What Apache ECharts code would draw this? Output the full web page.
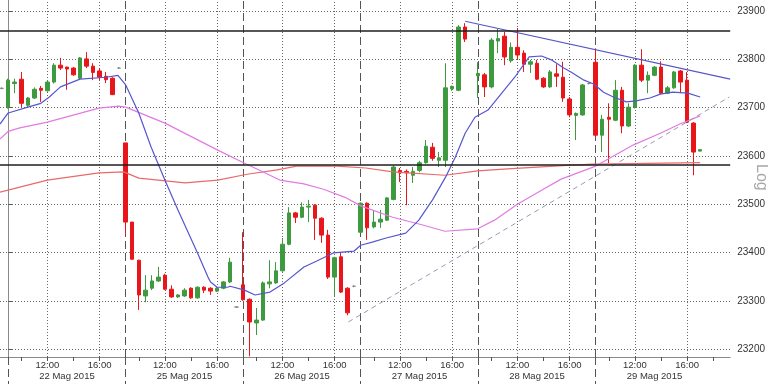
<!DOCTYPE html>
<html><head><meta charset="utf-8">
<script src="https://cdn.jsdelivr.net/npm/echarts@6/dist/echarts.min.js"></script>
<style>html,body{margin:0;padding:0;background:#fff}#c{width:768px;height:384px}</style>
</head><body><div id="c"></div>
<script>
// 30-minute bars; slot index 0 = 22 Mag 09:00, 18 slots per session day (09:00-17:30)
const FIRST_SLOT = -1;
const opens = [23740,
 23701,23750,23759,23705,23720,23740,23735,23753,23788,23784,23782,23761,23801,23786,23776,23765,23761,23782,
 23627,23463,23384,23310,23326,23341,23353,23324,23308,23310,23326,23306,23328,23326,23320,23326,23339,23287,
 23333,23303,23254,23260,23335,23337,23362,23417,23482,23473,23494,23498,23471,23436,23349,23391,23326,23330,
 23442,23502,23453,23463,23467,23510,23570,23568,23560,23570,23586,23618,23591,23591,23739,23736,23867,null,
 23766,23768,23743,23838,23848,23797,23825,23813,23790,23792,23761,23743,23770,23763,23718,23684,23685,23750,
 23794,23643,23680,23674,23736,23662,23701,23788,23757,23767,23784,23730,23741,23776,23757,23668,23610];
const closes = [23740,
 23757,23753,23709,23720,23738,23736,23753,23788,23782,23780,23768,23803,23786,23773,23763,23758,23727,23782,
 23463,23386,23312,23322,23341,23349,23324,23308,23312,23322,23306,23328,23322,23320,23326,23339,23380,23287,
 23302,23256,23260,23337,23339,23362,23417,23482,23473,23494,23496,23471,23436,23349,23389,23318,23275,23330,
 23502,23451,23463,23469,23513,23577,23565,23565,23568,23586,23620,23595,23596,23741,23744,23867,23842,null,
 23771,23743,23840,23843,23805,23825,23809,23790,23795,23759,23743,23774,23765,23720,23685,23688,23747,23750,
 23643,23676,23676,23736,23662,23701,23788,23757,23767,23784,23730,23741,23774,23753,23670,23608,23613];
const lows = [23738,
 23698,23730,23701,23700,23718,23712,23733,23750,23778,23737,23766,23758,23782,23757,23757,23751,23726,23780,
 23436,23385,23281,23297,23322,23339,23322,23306,23306,23308,23304,23304,23316,23312,23318,23324,23337,23285,
 23300,23185,23229,23258,23326,23335,23360,23415,23461,23471,23463,23426,23420,23345,23308,23316,23270,23328,
 23440,23426,23450,23451,23465,23508,23546,23498,23544,23566,23584,23590,23577,23577,23735,23734,23836,null,
 23720,23722,23740,23813,23788,23793,23799,23774,23772,23757,23741,23741,23743,23712,23680,23633,23683,23748,
 23640,23608,23585,23672,23647,23660,23698,23753,23730,23765,23728,23728,23739,23730,23668,23560,23609];
const highs = [23742,
 23760,23760,23774,23722,23742,23745,23757,23792,23803,23785,23784,23805,23815,23792,23782,23774,23763,23784,
 23627,23463,23385,23353,23353,23370,23356,23332,23314,23326,23328,23330,23330,23328,23328,23341,23389,23289,
 23442,23305,23285,23340,23384,23380,23430,23494,23484,23504,23509,23500,23473,23447,23391,23401,23328,23332,
 23504,23504,23488,23488,23515,23580,23575,23572,23577,23590,23633,23627,23608,23792,23746,23871,23875,null,
 23794,23772,23844,23863,23857,23835,23865,23819,23799,23799,23763,23778,23790,23795,23722,23690,23749,23752,
 23823,23685,23709,23757,23743,23709,23790,23821,23775,23786,23796,23745,23776,23778,23774,23670,23614];

// moving averages (slot, price)
const blueSlots  = [-1.26,0,3,5,6.3,8,11,15,16.8,18,20,21.9,24,26,29,30.6,31,32,33.6,34,36.2,37.8,40.1,42.3,45.3,47.2,49.8,53,54,55.9,57.9,60.9,62.9,65,67,68.5,70,71.5,73.5,75.6,77.6,79.8,81.7,83.2,85.1,86.2,88.2,89.7,91.2,92.7,94.7,96.2,98.3,99.9,101.8,104.1,106];
const bluePrices = [23666,23689,23701,23709,23722,23743,23759,23763,23767,23747,23689,23618,23550,23488,23399,23349,23339,23328,23328,23330,23322,23312,23318,23337,23370,23382,23399,23403,23415,23422,23430,23440,23467,23509,23556,23598,23647,23680,23695,23730,23763,23805,23807,23799,23782,23774,23757,23749,23732,23722,23712,23714,23720,23728,23732,23730,23722];
const pinkSlots  = [-1.26,0,1.77,6,13.9,16.9,18,24,32.1,36.2,38.1,41.6,45.3,48.3,51.8,54.1,58.9,63.5,66.9,71.9,74.5,78,81.7,84.7,90,95.8,99.9,102.9,106];
const pinkPrices = [23635,23651,23658,23670,23699,23703,23701,23668,23612,23585,23573,23550,23542,23531,23513,23496,23473,23457,23444,23449,23467,23500,23529,23552,23579,23623,23647,23666,23683];
const redSlots   = [-1.26,6,13.9,17.7,20,27.1,32.1,36.6,41.2,44.2,50.3,54.8,58.9,66.9,71.9,76.5,86.2,89.7,106];
const redPrices  = [23525,23550,23565,23567,23554,23544,23550,23562,23571,23579,23579,23575,23567,23560,23569,23573,23581,23583,23586];

// drawn trend lines and horizontal levels
const resistSlots = [70.0, 110.6];
const resistPrices = [23879, 23759];
const supportSlots = [52.1, 110.46];
const supportPrices = [23256, 23722];
const levelLines = [23860, 23582];

// axes
const priceTicks = [23200,23300,23400,23500,23600,23700,23800,23900];
const dayNames = ['22 Mag 2015','25 Mag 2015','26 Mag 2015','27 Mag 2015','28 Mag 2015','29 Mag 2015'];
const labelHours = [12, 16];
const tickHours = [10, 12, 14, 16, 18];
const X_MIN = -1.258, X_MAX = 110.6, Y_MIN = 23183.5, Y_MAX = 23923;

const SLOTS_PER_DAY = 18;
const slotOf = (day, hour) => day * SLOTS_PER_DAY + (hour - 9) * 2;
const hhmm = h => (h < 10 ? '0' : '') + h + ':00';

const candles = [];
opens.forEach((o, i) => {
  if (o == null) return;
  candles.push([FIRST_SLOT + i, o, closes[i], lows[i], highs[i]]);
});
const zip = (xs, ys) => xs.map((x, i) => [x, ys[i]]);

const labelSlots = [], labelText = {};
const shortTicks = [];
const daySlots = [], dayCenters = [], dayText = {};
dayNames.forEach((name, d) => {
  labelHours.forEach(h => { const s = slotOf(d, h); labelSlots.push(s); labelText[s] = hhmm(h); });
  tickHours.forEach(h => shortTicks.push(slotOf(d, h)));
  daySlots.push(slotOf(d, 9));
  const c = slotOf(d, 13.5); dayCenters.push(c); dayText[c] = name;
});

const dotted = {type: [1, 2], color: '#666', width: 1};
const dashed = {type: [8, 4], color: '#555', width: 1};
const gridMarks = [];
priceTicks.forEach(p => gridMarks.push({yAxis: p, lineStyle: dotted}));
dayNames.forEach((n, d) => {
  gridMarks.push({xAxis: slotOf(d, 9), lineStyle: dashed});
  labelHours.forEach(h => gridMarks.push({xAxis: slotOf(d, h), lineStyle: dotted}));
});

const chart = echarts.init(document.getElementById('c'), null, {renderer: 'canvas'});
const font = 'Liberation Sans, Arial, sans-serif';
chart.setOption({
  animation: false,
  backgroundColor: '#fff',
  grid: {left: 0, right: 30, top: 0, bottom: 27, containLabel: false},
  xAxis: [{
    type: 'value', min: X_MIN, max: X_MAX,
    axisLine: {show: true, lineStyle: {color: '#8a8a8a', width: 1}},
    axisTick: {show: true, customValues: shortTicks, length: 4, lineStyle: {color: '#555'}},
    axisLabel: {customValues: labelSlots, formatter: v => labelText[v] || '', fontSize: 9.5, color: '#333', margin: 3, fontFamily: font},
    splitLine: {show: false}
  }, {
    type: 'value', min: X_MIN, max: X_MAX, position: 'bottom',
    axisLine: {show: false},
    axisTick: {show: true, customValues: daySlots, length: 27, lineStyle: {color: '#555', type: [8, 4]}},
    axisLabel: {customValues: dayCenters, formatter: v => dayText[v] || '', fontSize: 9.5, color: '#333', margin: 14, fontFamily: font},
    splitLine: {show: false}
  }],
  yAxis: {
    type: 'value', position: 'right', min: Y_MIN, max: Y_MAX, scale: true,
    axisLine: {show: true, lineStyle: {color: '#8a8a8a'}},
    axisTick: {show: true, customValues: priceTicks, length: 4, lineStyle: {color: '#555'}},
    axisLabel: {customValues: priceTicks, formatter: v => String(v), fontSize: 10, color: '#333', margin: 7, fontFamily: font},
    splitLine: {show: false}
  },
  series: [{
    type: 'line', data: [], silent: true,
    markLine: {silent: true, symbol: ['none', 'none'], label: {show: false}, z: 0, animation: false, data: gridMarks}
  }, {
    type: 'candlestick', data: candles, barWidth: 4, z: 3,
    itemStyle: {color: '#3e9a3e', color0: '#e8161b', borderColor: '#3e9a3e', borderColor0: '#e8161b', borderColorDoji: '#8a8a8a', borderWidth: 1}
  }, {
    type: 'line', data: zip(redSlots, redPrices), symbol: 'none', z: 4,
    lineStyle: {color: '#e86a6a', width: 1.2}
  }, {
    type: 'line', data: zip(pinkSlots, pinkPrices), symbol: 'none', z: 4,
    lineStyle: {color: '#e27be2', width: 1.2}
  }, {
    type: 'line', data: zip(blueSlots, bluePrices), symbol: 'none', z: 4,
    lineStyle: {color: '#5656d0', width: 1.2}
  }, {
    type: 'line', data: zip(resistSlots, resistPrices), symbol: 'none', z: 4,
    lineStyle: {color: '#5656c8', width: 1.2}
  }, {
    type: 'line', data: zip(supportSlots, supportPrices), symbol: 'none', z: 4,
    lineStyle: {color: '#9a9ab4', width: 1, type: [5, 4]}
  }, {
    type: 'line', data: [], silent: true,
    markLine: {silent: true, symbol: ['none', 'none'], label: {show: false}, z: 6, animation: false,
      data: levelLines.map(v => ({yAxis: v, lineStyle: {color: '#1e1e1e', width: 1.5, type: 'solid'}}))}
  }],
  graphic: [{
    type: 'text', left: 753, top: 164, rotation: -Math.PI / 2,
    style: {text: 'Log', fill: '#a8a8a8', font: '16px ' + font}
  }]
});
</script></body></html>
